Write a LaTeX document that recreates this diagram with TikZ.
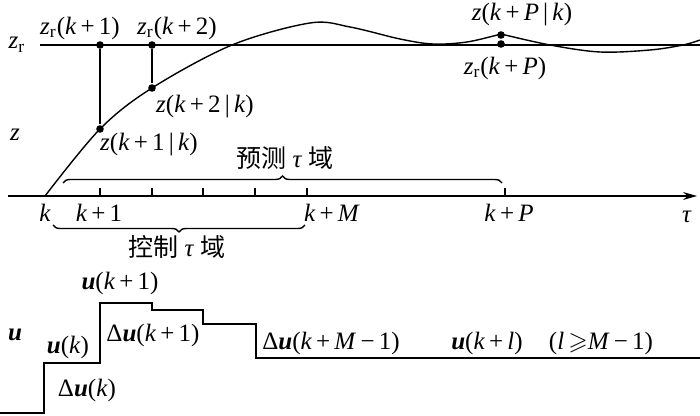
\documentclass[tikz,border=0pt]{standalone}
\usepackage{fontspec}
\setmainfont{Liberation Serif}
\newfontfamily\cjk{Noto Sans CJK SC}
\usepackage{amssymb}
\usetikzlibrary{decorations.pathreplacing,arrows.meta}
\newcommand\mv[1]{\textit{#1}}
\newcommand\ubf{\textbf{\textit{u}}}
\newcommand\zr{\mv{z}\textsubscript{r}}
\begin{document}
\begin{tikzpicture}[x=0.5pt,y=-0.5pt,
  line width=0.7pt,
  lbl/.style={inner sep=0pt,font=\fontsize{12.5}{14}\selectfont},
  dot/.style={circle,fill,inner sep=0pt,minimum size=3.8pt},
  tick/.style={line width=0.6pt}]
\useasboundingbox (0,0) rectangle (700,416);
% reference line and axis
\coordinate (zl) at (40,45);
\coordinate (zrr) at (700,45);
\draw (zl) -- (zrr);
\coordinate (ax0) at (8,196);
\coordinate (ax1) at (697,196);
\draw[-{Stealth[length=7pt,width=4pt]}] (ax0) -- (ax1);
% ticks
\foreach \x/\n in {100/t1,152/t2,203/t3,255/t4,307/tM,505/tP}{
  \coordinate (\n) at (\x,196);
  \draw[tick] (\n) -- ++(0,-8);
}
% output curve
\draw[line width=0.7pt] plot[smooth,tension=0.55] coordinates
  {(45,196) (100,129) (152,88) (232,45) (310,23) (350,27) (400,39) (433,44) (467,42) (501,34)};
\draw[line width=0.7pt] plot[smooth,tension=0.55] coordinates
  {(501,34) (550,45) (600,52) (650,50) (683,45) (700,40)};
% dots
\node[dot] (d1a) at (100,45) {};
\node[dot] (d1b) at (100,129) {};
\node[dot] (d2a) at (152,45) {};
\node[dot] (d2b) at (152,88) {};
\node[dot] (dPa) at (501,35) {};
\node[dot] (dPb) at (501,44) {};
\draw (d1a) -- (d1b);
\draw (d2a) -- (d2b);
% labels top
\node[lbl] (Lzr) at (17,45) {\zr};
\node[lbl] (Lz) at (15,135) {\mv{z}};
\node[lbl] (Lzr1) at (80,28) {\zr(\mv{k}\,+\,1)};
\node[lbl] (Lzr2) at (177,28) {\zr(\mv{k}\,+\,2)};
\node[lbl] (Lzk2) at (205,107) {\mv{z}(\mv{k}\,+\,2\,|\,\mv{k})};
\node[lbl] (Lzk1) at (149,145) {\mv{z}(\mv{k}\,+\,1\,|\,\mv{k})};
\node[lbl] (LzP) at (522,15) {\mv{z}(\mv{k}\,+\,\mv{P}\,|\,\mv{k})};
\node[lbl] (LzrP) at (505,68) {\zr(\mv{k}\,+\,\mv{P})};
\node[lbl] (Lpred) at (285,158) {{\cjk 预测} \mv{τ} {\cjk 域}};
% braces
\coordinate (b1a) at (63,183);
\coordinate (b1b) at (502,183);
\draw[decorate,decoration={brace,amplitude=3.5pt}] (b1a) -- (b1b);
\coordinate (b2a) at (53,225);
\coordinate (b2b) at (305,225);
\draw[decorate,decoration={brace,amplitude=3.5pt,mirror}] (b2a) -- (b2b);
\node[lbl] (Lctrl) at (177,247) {{\cjk 控制} \mv{τ} {\cjk 域}};
% axis labels
\node[lbl] (Lk) at (45,213) {\mv{k}};
\node[lbl] (Lk1) at (99,213) {\mv{k}\,+\,1};
\node[lbl] (LkM) at (332,213) {\mv{k}\,+\,\mv{M}};
\node[lbl] (LkP) at (509,213) {\mv{k}\,+\,\mv{P}};
\node[lbl] (Ltau) at (687,217) {\mv{τ}};
% control steps
\coordinate (s0) at (0,413);
\coordinate (s1) at (44,413);
\coordinate (s2) at (44,363);
\coordinate (s3) at (100,363);
\coordinate (s4) at (100,303);
\coordinate (s5) at (152,303);
\coordinate (s6) at (152,310);
\coordinate (s7) at (203,310);
\coordinate (s8) at (203,324);
\coordinate (s9) at (256,324);
\coordinate (s10) at (256,358);
\coordinate (s11) at (700,358);
\draw (s0) -- (s1) -- (s2) -- (s3) -- (s4) -- (s5) -- (s6) -- (s7) -- (s8) -- (s9) -- (s10) -- (s11);
% control labels
\node[lbl] (Lu) at (15,335) {\ubf};
\node[lbl] (Luk1) at (120,283) {\ubf(\mv{k}\,+\,1)};
\node[lbl] (Luk) at (68,347) {\ubf(\mv{k})};
\node[lbl] (Lduk1) at (153,335) {Δ\ubf(\mv{k}\,+\,1)};
\node[lbl] (Lduk) at (87,390) {Δ\ubf(\mv{k})};
\node[lbl] (LdukM) at (331,343) {Δ\ubf(\mv{k}\,+\,\mv{M}\,−\,1)};
\node[lbl] (Lukl) at (487,343) {\ubf(\mv{k}\,+\,\mv{l})};
\node[lbl] (Lcond) at (601,343) {(\mv{l}\,$\geqslant$\mv{M}\,−\,1)};
\end{tikzpicture}
\end{document}
